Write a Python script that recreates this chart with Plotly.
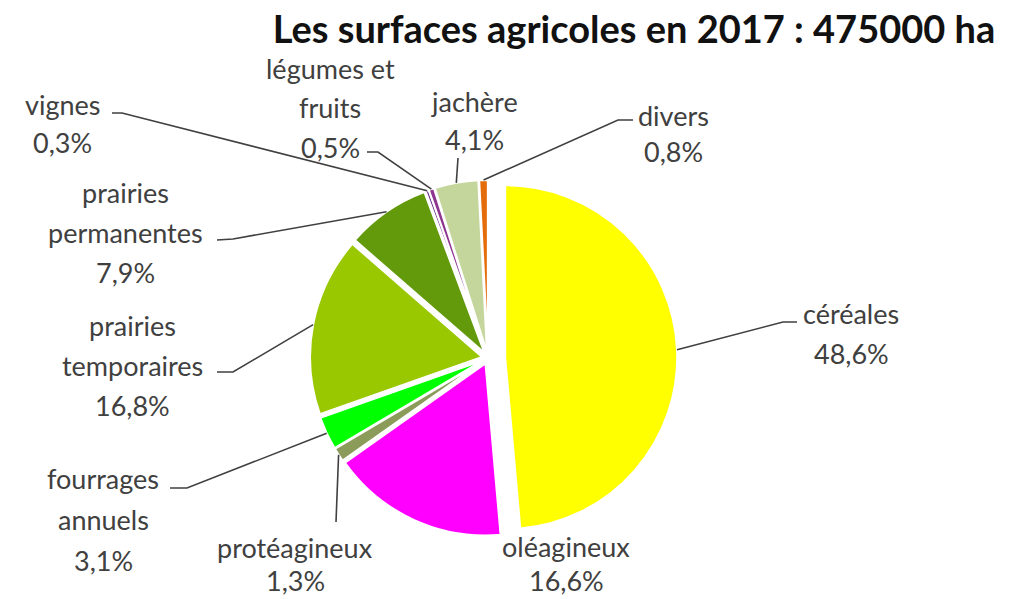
import math
import plotly.graph_objects as go

# ---------------- data ----------------
categories = ["céréales", "oléagineux", "protéagineux", "fourrages annuels",
              "prairies temporaires", "prairies permanentes", "vignes",
              "légumes et fruits", "jachère", "divers"]
values = [48.6, 16.6, 1.3, 3.1, 16.8, 7.9, 0.3, 0.5, 4.1, 0.8]
label_lines = [["céréales"], ["oléagineux"], ["protéagineux"], ["fourrages", "annuels"],
               ["prairies", "temporaires"], ["prairies", "permanentes"], ["vignes"],
               ["légumes et", "fruits"], ["jachère"], ["divers"]]
title_text = "Les surfaces agricoles en 2017 : 475000 ha"

# ---------------- styles / layout ----------------
colors = ["#FFFF00", "#FF00FF", "#8A9B5A", "#00FF00", "#99C800",
          "#639A0C", "#6A2A8C", "#8E3590", "#C4D69B", "#E46C0A"]
pulls = [0.1] + [0.035] * 9

W, H = 1013, 599
CX, CY, R = 488, 358, 172
max_pull = max(pulls)
avail = 2 * R * (1 + max_pull)

# label placement (pixel): centre x, first-line y, line spacing, elbow points
label_pos = [
    (851, 313, 40, [(797, 322), (783, 322)]),
    (566, 546, 34, None),
    (295, 547, 33, [(336, 522)]),
    (103, 478, 41, [(170, 488), (187, 488)]),
    (132, 325, 40, [(217, 372), (233, 372)]),
    (125, 192, 40, [(217, 240), (233, 239)]),
    (62, 105, 38, [(112, 113), (122, 113)]),
    (330, 69, 39, [(367, 152), (378, 152)]),
    (474, 102, 38, [(458, 158)]),
    (673, 115, 36, [(633, 120), (618, 120)]),
]

def px(x):
    return x / W

def py(y):
    return 1 - y / H

fig = go.Figure()
fig.add_trace(go.Pie(
    labels=categories,
    values=values,
    sort=False,
    direction="clockwise",
    rotation=0,
    pull=pulls,
    textinfo="none",
    hoverinfo="label+percent",
    marker=dict(colors=colors, line=dict(color="white", width=2)),
    showlegend=False,
    domain=dict(x=[px(CX - avail / 2), px(CX + avail / 2)],
                y=[py(CY + avail / 2), py(CY - avail / 2)]),
))

annotations = []
shapes = []
total = sum(values)
cum = 0.0
LABEL_FONT = dict(family="Lato", size=27, color="#404040")
for i, v in enumerate(values):
    mid = (cum + v / 2) / total * 2 * math.pi
    cum += v
    cx_, cy_, ls, elbow = label_pos[i]
    pct = f"{v:.1f}".replace(".", ",") + "%"
    lines = label_lines[i] + [pct]
    for k, t in enumerate(lines):
        annotations.append(dict(
            x=px(cx_), y=py(cy_ + k * ls), xref="paper", yref="paper",
            text=t, showarrow=False, xanchor="center", yanchor="middle",
            font=LABEL_FONT))
    if elbow:
        dist = R * (1 + pulls[i])
        sx = CX + dist * math.sin(mid)
        sy = CY - dist * math.cos(mid)
        pts = elbow + [(sx, sy)]
        path = "M " + " L ".join(f"{px(a):.5f},{py(b):.5f}" for a, b in pts)
        shapes.append(dict(type="path", path=path, xref="paper", yref="paper",
                           line=dict(color="#404040", width=1.6)))

fig.update_layout(
    width=W, height=H,
    margin=dict(l=0, r=0, t=0, b=0),
    paper_bgcolor="white", plot_bgcolor="white",
    title=dict(text=f"<b>{title_text}</b>", x=px(634), y=py(30),
               xanchor="center", yanchor="middle", xref="paper", yref="container",
               font=dict(family="Lato", size=38, color="#111111")),
    annotations=annotations,
    shapes=shapes,
)
fig.write_html("out.html")
